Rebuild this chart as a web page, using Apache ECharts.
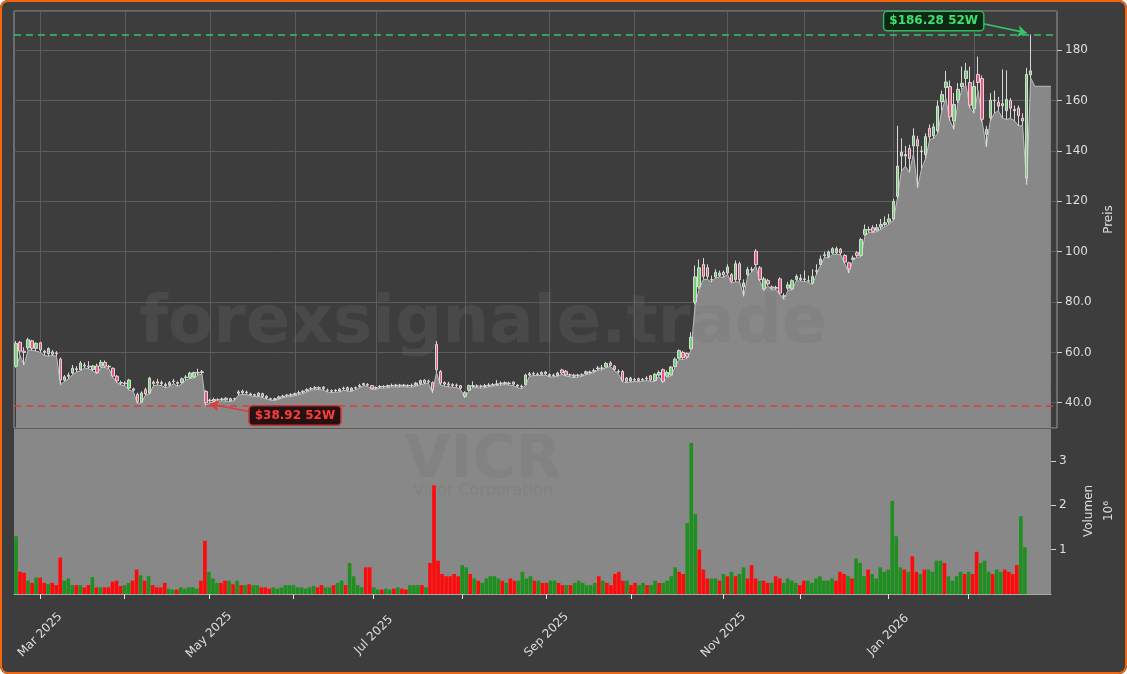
<!DOCTYPE html>
<html><head><meta charset="utf-8">
<script src="https://cdn.jsdelivr.net/npm/echarts@6/dist/echarts.min.js"></script>
<style>
html,body{margin:0;padding:0;background:#ffffff;}
#wrap{position:relative;width:1127px;height:674px;overflow:hidden;border-radius:8px;}
#chart{position:absolute;left:0;top:0;width:1127px;height:674px;}
#frame{position:absolute;left:0;top:0;width:1127px;height:674px;box-sizing:border-box;border:2px solid #f2660f;border-radius:8px;pointer-events:none;}
</style></head><body>
<div id="wrap"><div id="chart"></div><div id="frame"></div></div>
<script>
// ---------------- data ----------------
const opens = [54.5,64,60.5,61.8,64.6,61.6,63.8,60.5,59.5,60.2,59.8,57.3,49,50.5,51.8,53.5,53.1,55,54.5,53.2,
54.6,54.5,56,54.5,53.7,50.5,48,47.6,45.8,45.5,43.3,40.2,45.2,43.8,48.2,48.3,48,47.2,47,48.4,
48,48,50,50,50.2,51.8,52.3,44.5,40.8,40.6,41,41.5,41.8,40.8,41.6,43.8,44.6,44,43.5,43,
42.8,43.6,42.6,41.6,41.3,41.8,42.4,42.8,43,43.2,43.8,44.2,44.8,45.5,45.8,46,46.2,45,44.6,45,
44.6,45.6,46,44.8,45.8,46.5,47.2,47.3,46.8,45.8,46.2,46.5,46.5,46.8,47,46.8,47,46.9,46.8,47,
47.6,49,48.3,48,63.1,52.4,48,47.5,47.2,47,46.8,42.6,45,46.8,46.6,46.6,46.5,46.8,47,47.2,
47.6,48,47.6,48.2,47,46.4,47.2,51,51.4,51.4,51.3,52.2,51.2,50.8,50.8,53,52.5,51,51,50.8,
51,51.6,52,52.5,53.5,53.8,54.2,55.8,54.5,52.5,52.4,49.8,48.6,49.2,49.5,49,49.5,50.7,48.8,51,
53.1,50.5,51,54.4,57.7,60,59.6,61.5,80,86,94.9,93.6,89,90,90.5,91.8,91.5,90.9,88.9,95.2,
86,90.9,92.9,100.2,93.6,85.2,88.5,86,85.5,89.2,82.5,85.5,85.2,89,88.9,89.2,88.5,87.5,92.2,94.9,
98.5,98,99.5,99.6,101,98.5,95.6,97,99.6,98.5,106.8,108.6,109.5,108.5,109.8,110.8,111.8,113,122,138,
138,141,142,144.5,140,138.6,149,146,148,159.5,165.2,165.6,151.9,160.2,165.6,168.8,167.2,156.8,170.4,168.8,
146.6,153.2,160,159.4,158,156,160,156.5,157,153,129.3,170.2];
const closes = [63.5,60.5,60,65,61.6,63.6,61,60,61.5,59.3,59.5,49,50.3,51,53.7,53.2,55.8,54.6,54.2,54.6,
52,56,54.5,54.2,50.6,48.7,47.8,47.8,49,45,40.5,43.9,43.5,49.8,47.6,47.8,47.6,46.8,48,48.6,
47.7,49.5,50.2,51.8,52,52,52,39.9,41,41.3,41.2,41.3,41.2,41.6,41.5,44.3,44,44.2,43.2,43.2,
43.8,42.5,42,41.4,41.6,42.3,42.6,43,43.2,43.6,44,44.6,45.2,45.6,46,45.8,45.6,45,44.8,44.8,
45.4,45.8,45,45.8,46,46.8,47.6,47,45.6,46,46.5,46.4,46.8,46.9,46.8,47,46.9,46.7,46.9,47.8,
48.8,48,48.6,45.2,53.1,47.8,47.4,47,46.9,46.8,45.8,44,46.8,46.5,46.6,46.5,46.8,47,47.2,47.5,
47.8,47.6,47.8,47.4,46.6,46.6,51,51.5,51.6,51.2,52,51.6,50.8,51,51.8,51.8,51,51.1,50.5,51,
51.1,52.3,52.2,52.8,53.8,53.7,55.6,54.8,53.2,52.3,48.8,48.5,49.8,49,48.8,49.3,49.8,49,51.3,52,
48.5,52,54.2,57.3,60.7,58,58.2,66,90,93.6,90.2,90.2,88.9,91.8,91.5,90.8,93.9,88.2,95.2,88.9,
87.6,92.9,92.8,94.9,88.9,89.2,87.2,85.5,85.8,83.6,82.3,86.8,88.5,90.2,89.5,88.9,88.3,90.2,92.5,97.1,
98.8,99.9,101.2,101.2,99.5,95.9,93.2,97.5,98.5,104.8,108.8,108.8,108,109.5,110.8,111.5,113,120,134,139.5,
138.6,137,146,142,139.7,145.7,145.7,149.6,157.8,162.4,167.4,153.6,158.5,164.5,166.9,171.8,158.2,165.6,167.2,152.6,
148.6,160.2,160.2,157.8,158.8,160.5,157,156,154,151.9,170.4,171.8];
const lows = [54,58.8,55,61,60.8,60.5,60,58.8,58.5,58.8,58.5,47.2,48.5,49.5,51.2,52.2,52.8,53.8,53.5,52.6,
51.5,54,54,53.5,50,48,47,46.8,45,44.5,39.8,39.9,43,43.5,46.8,47,46.8,46,46.5,47.6,
46.5,47.5,49,49.6,49.8,51,51.4,38.92,40,40.2,40.5,40.8,40.6,40.5,40.9,43,43.3,43.3,42.8,42.5,
42.5,42,41.5,41,40.9,41.4,42,42.3,42.5,42.8,43.2,43.6,44.3,45,45.2,45.3,45,44.3,44,44.2,
44.2,45,44.6,44.5,45.2,46,46.8,46.5,45.3,45.3,45.8,45.8,46,46.3,46.3,46.3,46.4,46.2,46.2,46.6,
47.2,47.5,47.8,44,52,47,46.6,46.3,46.2,46,45.2,42,44.6,46,46,45.8,46,46.3,46.6,46.8,
47.1,47.2,47,46.8,46,45.6,46.8,50.5,50.8,50.8,50.8,51,50.2,50.3,50.5,51.3,50.6,50.3,50,50.2,
50.5,51.2,51.5,52,53,53,54,54.4,52.8,51.6,48.3,48,48.2,48.5,48.3,48.6,48.8,48.5,48.5,50.5,
48,50,50.6,54,57.3,57.2,57.6,61,79,85.2,89,89,88,89.5,90,89.8,91,87.5,88,88,
82.3,90.3,92,94.3,88.3,84.6,86.5,84.8,85,83,81,84.8,84.8,88.5,88.3,88.2,87.8,87,91,94.5,
97.8,97.5,99,99,98.8,95.3,91.5,96.6,97.8,98,106.3,107.8,107.5,108,109,110,111,112.5,121,132,
134,131.5,139,125.4,133,137,144.5,145,147,156,161,152,148.6,159,164.5,166,157,155,164,151.5,
141.6,152,155,156,153,152.5,153,152,150,150,126.7,169];
const highs = [64.5,64.5,62,65.8,65,64,64.2,61,62,61,60.5,58,51,52,55,54.5,56.5,56,56.5,55,
55.5,57,56.8,55,54,51,48.8,48.5,49.5,46,44,44.5,46,50.3,48.8,49.5,48.8,48,48.6,49.5,
48.5,50,51,52.3,52.3,53.5,53,45,41.6,42,41.8,42,42.2,42,42,45,45.2,44.8,44,43.6,
44.2,44,43,42,42,42.8,43.2,43.5,43.8,44,44.8,45,45.8,46.3,46.6,46.5,46.6,45.6,45.3,45.4,
45.8,46.4,46.5,46.2,46.5,47.5,48,47.8,47,46.5,47,47,47.2,47.6,47.5,47.5,47.5,47.3,47.6,48.3,
49.2,49.3,49.2,48.5,64.5,53,48.5,48.3,47.8,47.6,47,44.6,47.2,48.5,47.3,47.2,47.5,47.8,47.8,49,
48.5,48.5,48.4,48.5,47.4,47.2,51.5,52.2,52.3,52,52.5,52.6,51.6,51.6,52.3,53.5,53,51.6,51.5,51.5,
51.7,52.8,52.8,53.6,54.6,55,56.2,56.5,55,53.2,53,50.2,50.3,49.8,50,49.8,50.5,51,51.8,52.8,
53.6,52.8,54.6,58,61.2,60.6,60,68,94.5,96.9,97.5,95,90.5,93,92.5,92.5,95,91.5,96.5,96,
89,94,94,101,94.3,90,89.2,86.6,86.5,89.8,83.5,88,89,91,91,92.5,90.5,93,95,98.5,
100,100.5,101.8,102,101.5,99,96,98.5,100.2,105.5,110.8,110,110.5,111,113,114,115,121,150,145,
142,142.5,149,146,142,147,150.5,151,160,164,171.8,168,163,167,173.5,175,173.5,168,177.5,170,
150,163,164,161.5,172.4,172,161,158,158,155,173,186.28];
const volumes = [1.3,0.5,0.48,0.3,0.25,0.37,0.37,0.25,0.22,0.25,0.2,0.82,0.3,0.35,0.2,0.2,0.2,0.15,0.2,0.38,
0.15,0.15,0.15,0.15,0.28,0.3,0.18,0.2,0.25,0.3,0.55,0.42,0.3,0.4,0.2,0.15,0.15,0.25,0.12,0.1,
0.1,0.15,0.12,0.15,0.15,0.12,0.3,1.2,0.5,0.35,0.25,0.25,0.3,0.3,0.22,0.3,0.2,0.2,0.22,0.2,
0.2,0.15,0.15,0.12,0.15,0.12,0.15,0.2,0.2,0.2,0.15,0.15,0.12,0.15,0.18,0.15,0.2,0.15,0.15,0.2,
0.25,0.3,0.2,0.7,0.4,0.2,0.15,0.6,0.6,0.15,0.1,0.1,0.12,0.1,0.12,0.15,0.12,0.1,0.2,0.2,
0.2,0.2,0.15,0.7,2.45,0.75,0.45,0.4,0.4,0.45,0.4,0.65,0.6,0.45,0.35,0.3,0.25,0.35,0.4,0.4,
0.35,0.3,0.25,0.35,0.3,0.3,0.5,0.35,0.4,0.3,0.3,0.25,0.25,0.3,0.3,0.25,0.2,0.2,0.2,0.25,
0.3,0.25,0.2,0.2,0.25,0.4,0.3,0.25,0.2,0.45,0.5,0.3,0.3,0.2,0.25,0.2,0.25,0.2,0.2,0.3,
0.25,0.25,0.3,0.4,0.6,0.5,0.45,1.6,3.4,1.8,1.0,0.55,0.35,0.35,0.35,0.3,0.45,0.4,0.5,0.4,
0.45,0.6,0.35,0.65,0.35,0.3,0.3,0.25,0.25,0.4,0.35,0.25,0.35,0.3,0.25,0.2,0.3,0.3,0.25,0.35,
0.4,0.3,0.3,0.35,0.3,0.5,0.45,0.4,0.35,0.8,0.7,0.4,0.55,0.45,0.35,0.6,0.5,0.55,2.1,1.3,
0.6,0.55,0.5,0.85,0.5,0.45,0.55,0.55,0.5,0.75,0.75,0.7,0.4,0.3,0.4,0.5,0.45,0.5,0.45,0.95,
0.7,0.75,0.5,0.45,0.55,0.5,0.55,0.5,0.45,0.65,1.75,1.05];
const high52 = 186.28;
const low52 = 38.92;
const lastAreaLevel = 165.7;          // flat grey block after the last candle
const holidays = ['2025-04-18','2025-05-26','2025-06-19','2025-07-04','2025-09-01','2025-11-27',
                  '2025-12-25','2026-01-01','2026-01-19','2026-02-16'];
const firstDate = '2025-02-21';
const extraSlots = 6;
const monthNames = ['Jan','Feb','Mar','Apr','May','Jun','Jul','Aug','Sep','Oct','Nov','Dec'];

// ---------------- categories ----------------
const N = closes.length;
function buildDates(n){
  const out=[]; const d=new Date(firstDate+'T00:00:00Z');
  while(out.length<n){
    const wd=d.getUTCDay(); const s=d.toISOString().slice(0,10);
    if(wd!==0&&wd!==6&&holidays.indexOf(s)<0) out.push(s);
    d.setUTCDate(d.getUTCDate()+1);
  }
  return out;
}
const dates = buildDates(N+extraSlots);
const monthStart = dates.map((s,i)=> i>0 && i<N && s.slice(0,7)!==dates[i-1].slice(0,7));
const labelAt = dates.map((s,i)=> monthStart[i] && (parseInt(s.slice(5,7),10)%2===1));

const candleData = opens.map((o,i)=>[o,closes[i],lows[i],highs[i]]);
const areaData = dates.map((s,i)=> i<N ? lows[i] : (i<N+extraSlots-1 ? lastAreaLevel : null));
const volData = volumes.map((v,i)=>({value:v,itemStyle:{color: closes[i]>=opens[i] ? '#1f8f1f' : '#ff0a0a'}}));

const FONT='DejaVu Sans';
const WM='rgba(110,110,110,0.25)';
const chart = echarts.init(document.getElementById('chart'), null, {renderer:'canvas'});
const gridL=14, gridR=70;
chart.setOption({
  backgroundColor:'#3d3d3d',
  animation:false,
  textStyle:{fontFamily:FONT},
  grid:[
    {left:gridL,right:gridR,top:11,height:417,show:true,backgroundColor:'transparent',borderColor:'#9c9c9c',borderWidth:1},
    {left:gridL,right:gridR,top:428,height:166,show:true,backgroundColor:'#888888',borderColor:'#9c9c9c',borderWidth:0}
  ],
  graphic:{elements:[
    {type:'text',z:2,silent:true,style:{text:'forexsignale.trade',x:483,y:325,align:'center',verticalAlign:'middle',
      font:'bold 66px "DejaVu Sans"',fill:WM}},
    {type:'text',z:2,silent:true,style:{text:'VICR',x:483,y:462,align:'center',verticalAlign:'middle',
      font:'bold 59px "DejaVu Sans"',fill:WM}},
    {type:'text',z:2,silent:true,style:{text:'Vicor Corporation',x:483,y:491,align:'center',verticalAlign:'middle',
      font:'16px "DejaVu Sans"',fill:WM}}
  ]},
  xAxis:[
    {type:'category',gridIndex:0,data:dates,boundaryGap:true,
     axisLine:{show:false},axisTick:{show:false},axisLabel:{show:false},
     splitLine:{show:true,alignWithLabel:true,interval:(i)=>monthStart[i],lineStyle:{color:'#5c5c5c',width:1}}},
    {type:'category',gridIndex:1,data:dates,boundaryGap:true,
     axisLine:{show:true,lineStyle:{color:'#a8a8a8',width:1}},
     axisTick:{show:true,alignWithLabel:true,interval:(i)=>monthStart[i],length:5,lineStyle:{color:'#e0e0e0'}},
     axisLabel:{show:true,interval:(i)=>labelAt[i],rotate:45,align:'center',verticalAlign:'middle',margin:41,
       color:'#dedede',fontSize:12,fontFamily:FONT,
       formatter:(v)=>monthNames[parseInt(v.slice(5,7),10)-1]+' '+v.slice(0,4)},
     splitLine:{show:false}}
  ],
  yAxis:[
    {type:'value',gridIndex:0,position:'right',min:29.97,max:195.6,splitNumber:8,minInterval:20,maxInterval:20,
     axisLine:{show:false},axisTick:{show:true,length:5,lineStyle:{color:'#d0d0d0'}},
     axisLabel:{color:'#dedede',fontSize:12,fontFamily:FONT,margin:8,showMinLabel:false,showMaxLabel:false,
       formatter:(v)=> v<100 ? v.toFixed(1) : String(v)},
     splitLine:{show:true,lineStyle:{color:'#5c5c5c',width:1}},
     name:'Preis',nameLocation:'middle',nameRotate:90,nameGap:44,nameTextStyle:{color:'#dedede',fontSize:12,fontFamily:FONT}},
    {type:'value',gridIndex:1,position:'right',min:0,max:3.74,splitNumber:4,minInterval:1,maxInterval:1,
     axisLine:{show:false},axisTick:{show:true,length:5,lineStyle:{color:'#d0d0d0'}},
     axisLabel:{color:'#dedede',fontSize:12,fontFamily:FONT,margin:8,showMinLabel:false,showMaxLabel:false},
     splitLine:{show:false},
     name:'Volumen\n10⁶',nameLocation:'middle',nameRotate:90,nameGap:28,
     nameTextStyle:{color:'#dedede',fontSize:12,fontFamily:FONT,lineHeight:20}}
  ],
  series:[
    {type:'line',name:'area',xAxisIndex:0,yAxisIndex:0,data:areaData,z:1,symbol:'none',silent:true,
     lineStyle:{color:'#bdbdbd',width:1},areaStyle:{color:'#888888',opacity:1,origin:'start'}},
    {type:'candlestick',name:'VICR',xAxisIndex:0,yAxisIndex:0,data:candleData,z:3,barWidth:3,
     itemStyle:{color:'#6fd36f',color0:'#f0557f',borderColor:'#d8d8d8',borderColor0:'#d8d8d8',borderWidth:1},
     markLine:{silent:true,symbol:['none','none'],label:{show:false},animation:false,
       data:[
         {yAxis:high52,lineStyle:{color:'#35c46a',type:[7,5],width:1.5}},
         {yAxis:low52,lineStyle:{color:'#e03b3b',type:[7,5],width:1.5}},
         [{coord:[dates[239],190.6],symbol:'none',lineStyle:{color:'#35c46a',width:1.6,type:'solid'}},
          {coord:[dates[250],186.9],symbol:'arrow',symbolSize:9}],
         [{coord:[dates[58],36.4],symbol:'none',lineStyle:{color:'#e03b3b',width:1.6,type:'solid'}},
          {coord:[dates[48],39.5],symbol:'arrow',symbolSize:9}]
       ]},
     markPoint:{silent:true,symbol:'rect',symbolSize:[2,2],itemStyle:{color:'rgba(0,0,0,0)'},animation:false,
       data:[
         {coord:[dates[227],191.6],label:{show:true,position:'inside',formatter:'$'+high52.toFixed(2)+' 52W',
           color:'#3ee070',fontWeight:'bold',fontSize:12,fontFamily:FONT,backgroundColor:'#0c2714',
           borderColor:'#2fb85c',borderWidth:1.5,borderRadius:3,padding:[3,5]}},
         {coord:[dates[69],34.9],label:{show:true,position:'inside',formatter:'$'+low52.toFixed(2)+' 52W',
           color:'#ff3c3c',fontWeight:'bold',fontSize:12,fontFamily:FONT,backgroundColor:'#241111',
           borderColor:'#c73232',borderWidth:1.5,borderRadius:3,padding:[3,5]}}
       ]}},
    {type:'bar',name:'Volumen',xAxisIndex:1,yAxisIndex:1,data:volData,z:3,barCategoryGap:'10%'}
  ]
});
</script>
</body></html>
